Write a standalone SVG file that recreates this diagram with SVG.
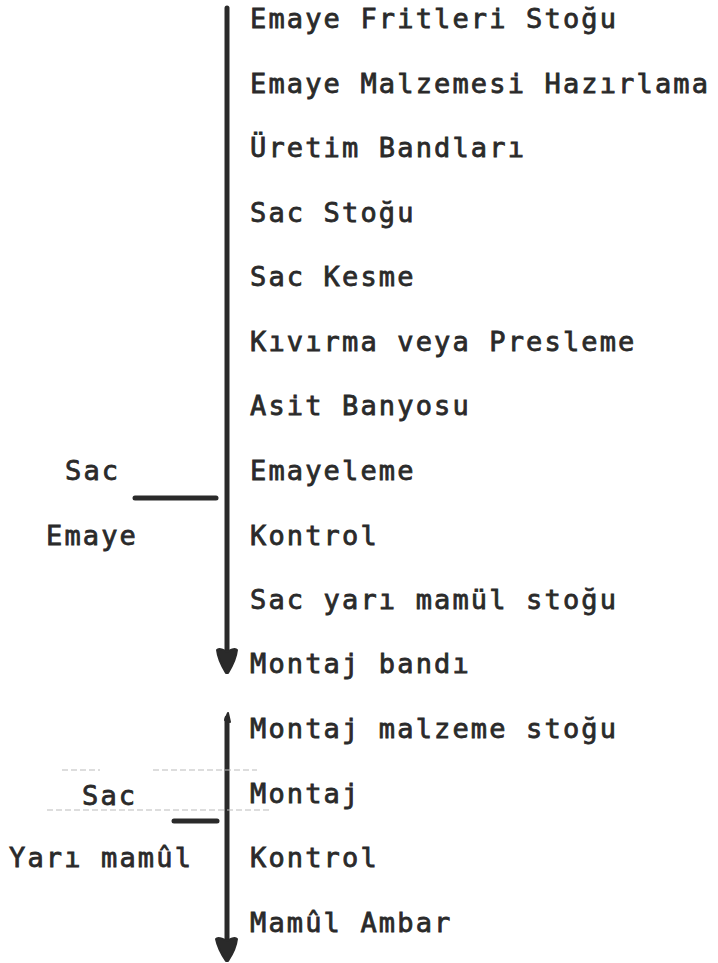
<svg xmlns="http://www.w3.org/2000/svg" width="718" height="963" viewBox="0 0 718 963">
<style>
.t{font-family:"DejaVu Sans Mono","Liberation Mono",monospace;font-size:27px;letter-spacing:2.15px;fill:#2a2a2a;stroke:#2a2a2a;stroke-width:0.8}
.ln{stroke:#2a2a2a;stroke-width:5;fill:none;stroke-linecap:round}
.faint{stroke:#bbb;stroke-width:1;stroke-dasharray:6 3;fill:none}
.ah{fill:#2a2a2a;stroke:#2a2a2a;stroke-width:2;stroke-linejoin:round}
</style>
<rect width="718" height="963" fill="#fff"/>
<g id="connectors">
<line class="ln" x1="227" y1="8" x2="227" y2="655"/>
<path class="ah" d="M217 650 Q219 647 227 652 Q235 647 237 650 Q236 660 228 673 L226 673 Q218 660 217 650 Z"/>
<line class="ln" x1="227" y1="718" x2="227" y2="943"/>
<path class="ah" d="M225 720 L228 713 L230 722 Z"/>
<path class="ah" d="M216 939 Q218 936 227 941 Q235 936 237 939 Q236 949 228 961 L226 961 Q218 949 216 939 Z"/>
<line class="ln" x1="135" y1="498" x2="216" y2="498" stroke-width="6"/>
<line class="ln" x1="174" y1="821" x2="217" y2="821" stroke-width="5"/>
<line class="faint" x1="62" y1="770" x2="100" y2="770"/>
<line class="faint" x1="153" y1="770" x2="257" y2="770"/>
<line class="faint" x1="47" y1="810" x2="270" y2="810"/>
</g>
<g id="n0"><text class="t" x="250" y="28">Emaye Fritleri Stoğu</text></g>
<g id="n1"><text class="t" x="250" y="93">Emaye Malzemesi Hazırlama</text></g>
<g id="n2"><text class="t" x="250" y="157">Üretim Bandları</text></g>
<g id="n3"><text class="t" x="250" y="222">Sac Stoğu</text></g>
<g id="n4"><text class="t" x="250" y="286">Sac Kesme</text></g>
<g id="n5"><text class="t" x="250" y="351">Kıvırma veya Presleme</text></g>
<g id="n6"><text class="t" x="250" y="415">Asit Banyosu</text></g>
<g id="n7"><text class="t" x="250" y="480">Emayeleme</text></g>
<g id="n8"><text class="t" x="250" y="545">Kontrol</text></g>
<g id="n9"><text class="t" x="250" y="609">Sac yarı mamül stoğu</text></g>
<g id="n10"><text class="t" x="250" y="673">Montaj bandı</text></g>
<g id="n11"><text class="t" x="250" y="738">Montaj malzeme stoğu</text></g>
<g id="n12"><text class="t" x="250" y="803">Montaj</text></g>
<g id="n13"><text class="t" x="250" y="867">Kontrol</text></g>
<g id="n14"><text class="t" x="250" y="932">Mamûl Ambar</text></g>
<g id="l1"><text class="t" x="65" y="480">Sac</text></g>
<g id="l2"><text class="t" x="46" y="545">Emaye</text></g>
<g id="l3"><text class="t" x="82" y="805">Sac</text></g>
<g id="l4"><text class="t" x="9" y="867">Yarı mamûl</text></g>
</svg>
